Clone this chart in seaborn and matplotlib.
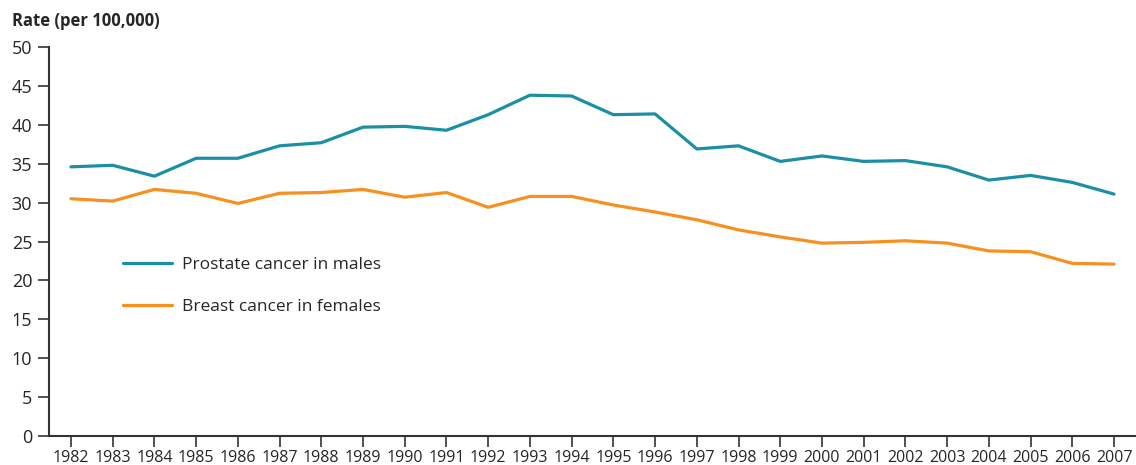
import pandas as pd
import matplotlib
matplotlib.use("Agg")
import matplotlib.pyplot as plt
import seaborn as sns

# ---- data ----
years = list(range(1982, 2008))
prostate = [34.6, 34.8, 33.4, 35.7, 35.7, 37.3, 37.7, 39.7, 39.8, 39.3,
            41.3, 43.8, 43.7, 41.3, 41.4, 36.9, 37.3, 35.3, 36.0, 35.3,
            35.4, 34.6, 32.9, 33.5, 32.6, 31.1]
breast = [30.5, 30.2, 31.7, 31.2, 29.9, 31.2, 31.3, 31.7, 30.7, 31.3,
          29.4, 30.8, 30.8, 29.7, 28.8, 27.8, 26.5, 25.6, 24.8, 24.9,
          25.1, 24.8, 23.8, 23.7, 22.2, 22.1]
series_names = ["Prostate cancer in males", "Breast cancer in females"]
colors = ["#1a8fa6", "#f7901e"]

df = pd.concat([
    pd.DataFrame({"Year": years, "Rate": prostate, "Series": series_names[0]}),
    pd.DataFrame({"Year": years, "Rate": breast, "Series": series_names[1]}),
])

sns.set_style("ticks")
plt.rcParams["font.family"] = ["Open Sans", "DejaVu Sans"]

fig = plt.figure(figsize=(11.36, 4.65), dpi=100)
ax = fig.add_axes([0.043, 0.062, 0.956, 0.837])

sns.lineplot(data=df, x="Year", y="Rate", hue="Series", palette=colors,
             linewidth=2.3, ax=ax)

ax.set_xlim(1981.47, 2007.5)
ax.set_ylim(0, 50)
ax.set_xticks(years)
ax.set_xticklabels([str(y) for y in years], fontsize=11.5)
ax.set_yticks(range(0, 51, 5))
ax.tick_params(axis="y", labelsize=13, length=8, width=1.2, color="#333333", pad=4)
ax.tick_params(axis="x", length=8, width=1.2, color="#333333", pad=2)
ax.set_xlabel("")
ax.set_ylabel("")
for side in ["top", "right"]:
    ax.spines[side].set_visible(False)
for side in ["left", "bottom"]:
    ax.spines[side].set_linewidth(1.5)
    ax.spines[side].set_color("#333333")

fig.text(0.011, 0.955, "Rate (per 100,000)", fontsize=12, fontweight="bold",
         ha="left", va="center")

handles, labels = ax.get_legend_handles_labels()
ax.legend(handles, labels, loc="upper left", bbox_to_anchor=(0.054, 0.5),
          frameon=False, fontsize=12.5, handlelength=2.8, handletextpad=0.6,
          labelspacing=1.45)

plt.savefig("out.png", dpi=100)
